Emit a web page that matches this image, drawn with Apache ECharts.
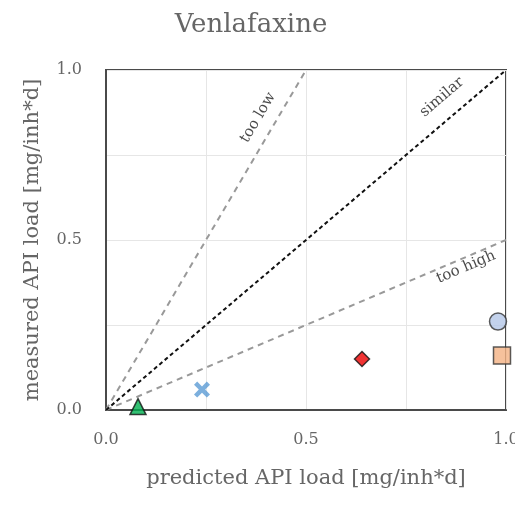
<!DOCTYPE html>
<html>
<head>
<meta charset="utf-8">
<script src="https://cdn.jsdelivr.net/npm/echarts@6/dist/echarts.min.js"></script>
<style>
  html, body { margin: 0; padding: 0; background: #fff; }
  #chart { width: 515px; height: 507px; }
</style>
</head>
<body>
<div id="chart"></div>
<script>
// Predicted vs. measured API load for one compound, per site
const titleText = 'Venlafaxine';
const xName = 'predicted API load [mg/inh*d]';
const yName = 'measured API load [mg/inh*d]';
const tickLabels = ['0.0', '0.5', '1.0'];

// Observations: [predicted, measured]
const triangleSite = [[0.08, 0.01]];
const crossSite = [[0.24, 0.06]];
const diamondSite = [[0.64, 0.15]];
const circleSite = [[0.98, 0.26]];
const squareSite = [[0.99, 0.16]];

// Reference lines
const lineTooLow = [[0, 0], [0.5, 1]];
const lineSimilar = [[0, 0], [1, 1]];
const lineTooHigh = [[0, 0], [1, 0.5]];

// Line captions: [x, y, text, angle]
const captions = [
  [0.38, 0.86, 'too low', 59.5],
  [0.84, 0.92, 'similar', 40.4],
  [0.90, 0.42, 'too high', 23]
];

const serif = 'DejaVu Serif';
const textGrey = '#666';

const crossPath = 'path://M2,0 L5,3 L8,0 L10,2 L7,5 L10,8 L8,10 L5,7 L2,10 L0,8 L3,5 L0,2 Z';

function tickFormatter(v) {
  const i = tickLabels.findIndex(t => Math.abs(parseFloat(t) - v) < 1e-6);
  return i >= 0 ? tickLabels[i] : '';
}

function refLine(data, color) {
  return {
    type: 'line', data, symbol: 'none', silent: true,
    lineStyle: { color, width: 2, type: [6, 5] }, z: 2
  };
}

function marker(data, symbol, size, color, border) {
  return {
    type: 'scatter', data, symbol, symbolSize: size, z: 5,
    itemStyle: { color, borderColor: border, borderWidth: border ? 1.5 : 0 }
  };
}

const chart = echarts.init(document.getElementById('chart'), null, { renderer: 'canvas' });
chart.setOption({
  animation: false,
  title: {
    text: titleText, left: 246, textAlign: 'center', top: 7,
    textStyle: { fontFamily: serif, fontSize: 26, fontWeight: 'normal', color: textGrey }
  },
  grid: {
    left: 106, right: 9, top: 70, bottom: 97,
    outerBoundsMode: 'none', containLabel: false,
    show: true, borderColor: '#4a4a4a', borderWidth: 2, backgroundColor: '#fff'
  },
  xAxis: {
    type: 'value', min: 0, max: 1, interval: 0.25,
    name: xName, nameLocation: 'middle', nameGap: 58,
    nameTextStyle: { fontFamily: serif, fontSize: 21, color: textGrey },
    axisLine: { show: true, lineStyle: { color: '#4a4a4a', width: 2 } },
    axisTick: { show: false },
    axisLabel: { formatter: tickFormatter, margin: 22, fontFamily: serif, fontSize: 16, color: textGrey },
    splitLine: { show: true, lineStyle: { color: '#e6e6e6', width: 1 } }
  },
  yAxis: {
    type: 'value', min: 0, max: 1, interval: 0.25,
    name: yName, nameLocation: 'middle', nameGap: 63,
    nameTextStyle: { fontFamily: serif, fontSize: 21, color: textGrey },
    axisLine: { show: true, lineStyle: { color: '#4a4a4a', width: 2 } },
    axisTick: { show: false },
    axisLabel: { formatter: tickFormatter, margin: 24, fontFamily: serif, fontSize: 16, color: textGrey },
    splitLine: { show: true, lineStyle: { color: '#e6e6e6', width: 1 } }
  },
  series: [
    refLine(lineTooLow, '#999'),
    refLine(lineTooHigh, '#999'),
    { ...refLine(lineSimilar, '#111'), lineStyle: { color: '#111', width: 2, type: [4, 3] } },
    {
      type: 'scatter', symbolSize: 0, silent: true, z: 4,
      data: captions.map(c => ({
        value: [c[0], c[1]],
        label: { show: true, position: 'inside', formatter: c[2], rotate: c[3] }
      })),
      label: { fontFamily: serif, fontSize: 15, color: '#1a1a1a' }
    },
    marker(triangleSite, 'triangle', 16, '#00b050', '#111'),
    marker(crossSite, crossPath, 16, '#5b9bd5', null),
    marker(diamondSite, 'diamond', 15, '#ee0000', '#111'),
    marker(circleSite, 'circle', 17, '#b4c7e7', '#333'),
    marker(squareSite, 'rect', 17, '#f4b183', '#333')
  ]
});
</script>
</body>
</html>
